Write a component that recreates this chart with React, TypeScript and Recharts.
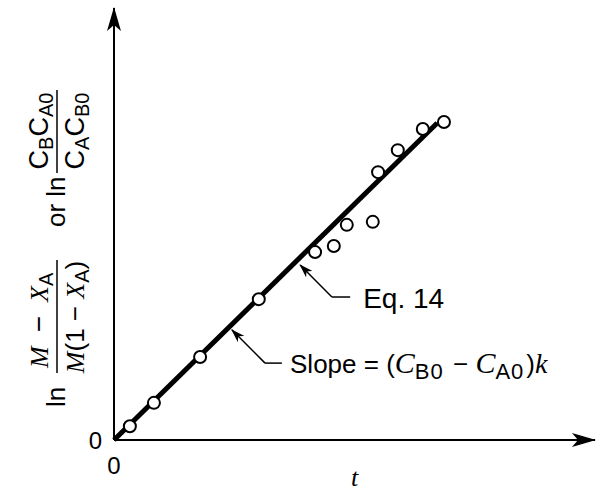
import { ComposedChart, XAxis, YAxis, Line, Scatter, ReferenceLine, ReferenceDot } from "recharts";

// ─── Data ─────────────────────────────────────────────────────────────────────
const tValues = [0.33, 0.83, 1.79, 3.01, 4.18, 4.57, 4.84, 5.38, 5.49, 5.9, 6.42, 6.86];
const lnValues = [0.32, 0.86, 1.92, 3.26, 4.35, 4.49, 4.98, 5.05, 6.2, 6.71, 7.2, 7.36];
const fitT = [0, 6.72];
const fitLn = [0, 7.34];

// leader lines for the two callouts: tip on the line, elbow, end of the tail
const eqLeader = [
  { x: 3.87, y: 4.05 },
  { x: 4.53, y: 3.31 },
  { x: 4.91, y: 3.31 },
];
const slopeLeader = [
  { x: 2.45, y: 2.55 },
  { x: 3.14, y: 1.78 },
  { x: 3.49, y: 1.78 },
];
const eqLabelAt = { x: 5.18, y: 3.31 };
const slopeLabelAt = { x: 3.66, y: 1.78 };

const points = tValues.map((t, i) => ({ t, v: lnValues[i] }));
const fit = fitT.map((t, i) => ({ t, v: fitLn[i] }));

const SANS = "'Liberation Sans', Arial, Helvetica, sans-serif";
const SERIF = "'Liberation Serif', 'Times New Roman', serif";

function Markers() {
  return (
    <svg width={0} height={0} style={{ position: "absolute" }}>
      <defs>
        <marker
          id="axisArrow"
          markerUnits="userSpaceOnUse"
          markerWidth={24}
          markerHeight={14}
          viewBox="0 0 24 14"
          refX={23}
          refY={7}
          orient="auto-start-reverse"
        >
          <path d="M0,0 L24,7 L0,14 L6,7 Z" fill="#000" />
        </marker>
        <marker
          id="leaderArrow"
          markerUnits="userSpaceOnUse"
          markerWidth={14}
          markerHeight={9}
          viewBox="0 0 14 9"
          refX={13}
          refY={4.5}
          orient="auto-start-reverse"
        >
          <path d="M0,0 L14,4.5 L0,9 L4,4.5 Z" fill="#000" />
        </marker>
      </defs>
    </svg>
  );
}

function YTitle() {
  return (
    <g transform="translate(57, 410) rotate(-90)" fill="#000">
      <text x={3} y={8} fontFamily={SANS} fontSize={26}>ln</text>
      <text x={42} y={-9} fontSize={26} fontFamily={SANS}>
        <tspan fontFamily={SERIF} fontStyle="italic">M</tspan>
        <tspan dx={14} fontSize={28}>−</tspan>
        <tspan dx={14} fontFamily={SERIF} fontStyle="italic">X</tspan>
        <tspan fontSize={20} dy={5}>A</tspan>
      </text>
      <line x1={37} x2={150} y1={0} y2={0} stroke="#000" strokeWidth={1.5} />
      <text x={93} y={27} textAnchor="middle" fontSize={26} fontFamily={SANS}>
        <tspan fontFamily={SERIF} fontStyle="italic">M</tspan>
        <tspan>(1 − </tspan>
        <tspan fontFamily={SERIF} fontStyle="italic">X</tspan>
        <tspan fontSize={20} dy={5}>A</tspan>
        <tspan dy={-5}>)</tspan>
      </text>
      <text x={183} y={8} fontFamily={SANS} fontSize={26}>or ln</text>
      <text x={279} y={-9} textAnchor="middle" fontSize={27} fontFamily={SANS}>
        <tspan>C</tspan>
        <tspan fontSize={20} dy={5}>B</tspan>
        <tspan dy={-5}>C</tspan>
        <tspan fontSize={20} dy={5}>A0</tspan>
      </text>
      <line x1={237} x2={320} y1={0} y2={0} stroke="#000" strokeWidth={1.5} />
      <text x={279} y={27} textAnchor="middle" fontSize={27} fontFamily={SANS}>
        <tspan>C</tspan>
        <tspan fontSize={20} dy={5}>A</tspan>
        <tspan dy={-5}>C</tspan>
        <tspan fontSize={20} dy={5}>B0</tspan>
      </text>
    </g>
  );
}

const openCircle = (p: any) => (
  <circle cx={p.cx} cy={p.cy} r={6} fill="#fff" stroke="#000" strokeWidth={2} />
);

const eqText = (p: any) => (
  <text x={p.cx} y={p.cy + 11} fontFamily={SANS} fontSize={28} fill="#000">
    Eq. 14
  </text>
);

const slopeText = (p: any) => (
  <text x={p.cx} y={p.cy + 10} fontFamily={SANS} fontSize={26} fill="#000">
    <tspan>Slope = (</tspan>
    <tspan fontFamily={SERIF} fontStyle="italic" fontSize={30}>C</tspan>
    <tspan fontSize={22} dy={6} letterSpacing={1}>B0</tspan>
    <tspan dy={-6} dx={2}> − </tspan>
    <tspan fontFamily={SERIF} fontStyle="italic" fontSize={30}>C</tspan>
    <tspan fontSize={22} dy={6} letterSpacing={1}>A0</tspan>
    <tspan dy={-6} dx={2}>)</tspan>
    <tspan fontFamily={SERIF} fontStyle="italic" fontSize={28}>k</tspan>
  </text>
);

const leaderProps = { stroke: "#000", strokeWidth: 1.5, ifOverflow: "visible" as const };

export default function App() {
  return (
    <div style={{ position: "absolute", left: 0, top: 0, background: "#fff" }}>
      <Markers />
      <ComposedChart width={598} height={491} margin={{ top: 8, right: 3, left: 0, bottom: 0 }}>
        <XAxis
          type="number"
          dataKey="t"
          domain={[0, 10]}
          ticks={[0]}
          height={51}
          tickLine={false}
          tickSize={0}
          tickMargin={17}
          tick={{ fill: "#000", fontSize: 24, fontFamily: SANS }}
          axisLine={{ stroke: "#000", strokeWidth: 2, markerEnd: "url(#axisArrow)" }}
          label={{
            content: (p: any) => (
              <text
                x={p.viewBox.x + p.viewBox.width / 2}
                y={486}
                textAnchor="middle"
                fontFamily={SERIF}
                fontStyle="italic"
                fontSize={26}
                fill="#000"
              >
                t
              </text>
            ),
          }}
        />
        <YAxis
          type="number"
          dataKey="v"
          domain={[0, 10]}
          ticks={[0]}
          width={114}
          tickLine={false}
          tickSize={0}
          tickMargin={12}
          tick={{ fill: "#000", fontSize: 24, fontFamily: SANS }}
          axisLine={{ stroke: "#000", strokeWidth: 2, markerStart: "url(#axisArrow)" }}
          label={{ content: () => <YTitle /> }}
        />
        <Line
          data={fit}
          dataKey="v"
          stroke="#000"
          strokeWidth={5}
          dot={false}
          activeDot={false}
          isAnimationActive={false}
        />
        <Scatter data={points} dataKey="v" shape={openCircle} isAnimationActive={false} />
        <ReferenceLine segment={[eqLeader[0], eqLeader[1]]} {...leaderProps} markerStart="url(#leaderArrow)" />
        <ReferenceLine segment={[eqLeader[1], eqLeader[2]]} {...leaderProps} />
        <ReferenceLine segment={[slopeLeader[0], slopeLeader[1]]} {...leaderProps} markerStart="url(#leaderArrow)" />
        <ReferenceLine segment={[slopeLeader[1], slopeLeader[2]]} {...leaderProps} />
        <ReferenceDot x={eqLabelAt.x} y={eqLabelAt.y} r={0} shape={eqText} ifOverflow="visible" />
        <ReferenceDot x={slopeLabelAt.x} y={slopeLabelAt.y} r={0} shape={slopeText} ifOverflow="visible" />
      </ComposedChart>
    </div>
  );
}
